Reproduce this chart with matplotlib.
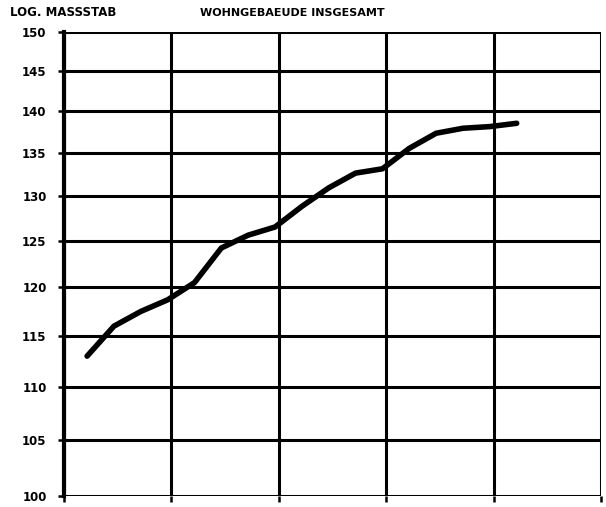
import numpy as np
import matplotlib
matplotlib.use("Agg")
import matplotlib.pyplot as plt
from matplotlib.ticker import FixedLocator, NullLocator, NullFormatter

# values (index positions, log scale values)
x_pos = [0.86, 1.86, 2.86, 3.86, 4.86, 5.86, 6.86, 7.86, 8.86,
         9.86, 10.86, 11.86, 12.86, 13.86, 14.86, 15.86, 16.86]
values = [113.0, 116.0, 117.5, 118.7, 120.5, 124.2, 125.6, 126.5, 128.8,
          130.9, 132.6, 133.1, 135.5, 137.3, 137.9, 138.1, 138.5]
y_ticks = [100, 105, 110, 115, 120, 125, 130, 135, 140, 145, 150]
x_grid = [0, 4, 8, 12, 16, 20]

fig = plt.figure(figsize=(6.06, 5.07), dpi=100)
ax = fig.add_axes([64/606, 11/507, 537/606, 464/507])

ax.set_yscale("log")
ax.set_ylim(100, 150)
ax.set_xlim(0, 20)

ax.yaxis.set_major_locator(FixedLocator(y_ticks))
ax.yaxis.set_minor_locator(NullLocator())
ax.yaxis.set_minor_formatter(NullFormatter())
ax.set_yticklabels([str(v) for v in y_ticks], fontsize=8.5,
                   fontweight="bold", family="DejaVu Sans")
ax.xaxis.set_major_locator(FixedLocator(x_grid))
ax.set_xticklabels([])

ax.tick_params(axis="both", direction="out", length=4.5, width=1.8,
               color="black", pad=8)
ax.grid(True, color="black", linewidth=2.2)

for side in ["top", "right", "bottom"]:
    ax.spines[side].set_visible(False)
ax.spines["left"].set_linewidth(3)

ax.plot(x_pos, values, color="black", linewidth=4,
        solid_capstyle="round", solid_joinstyle="round")

fig.text(10/606, 1 - 13/507, "LOG. MASSSTAB", fontsize=8.5,
         fontweight="bold", va="center", ha="left")
fig.text(200/606, 1 - 13/507, "WOHNGEBAEUDE INSGESAMT", fontsize=8,
         fontweight="bold", va="center", ha="left")

fig.savefig("out.png", dpi=100)
